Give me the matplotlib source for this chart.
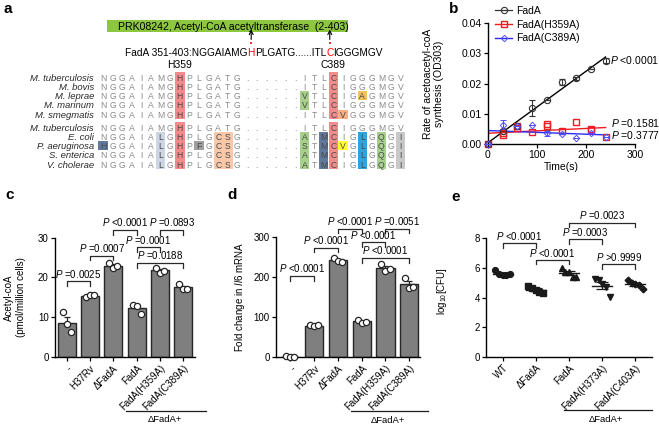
import matplotlib
matplotlib.use('Agg')
import matplotlib.pyplot as plt
from matplotlib.patches import Rectangle
from matplotlib.lines import Line2D
import numpy as np

plt.rcParams['font.family'] = ['Liberation Sans', 'DejaVu Sans']
plt.rcParams['mathtext.fontset'] = 'custom'
plt.rcParams['mathtext.rm'] = 'Liberation Sans'
plt.rcParams['mathtext.it'] = 'Liberation Sans:italic'
plt.rcParams['font.size'] = 7
plt.rcParams['axes.linewidth'] = 1.0

# ---------------- data: panel a (alignment) ----------------
domain_label = 'PRK08242, Acetyl-CoA acetyltransferase  (2-403)'
fada_prefix = 'FadA 351-403:'
fada_seq = 'NGGAIAMGHPLGATG......ITLCIGGGMGV'
site_cols = [8, 24]
site_labels = ['H359', 'C389']

species_1 = ['M. tuberculosis', 'M. bovis', 'M. leprae', 'M. marinum', 'M. smegmatis']
seqs_1 = ['NGGAIAMGHPLGATG......ITLCIGGGMGV',
          'NGGAIAMGHPLGATG......ITLCIGGGMGV',
          'NGGAIAMGHPLGATG......VTLCIGAGMGV',
          'NGGAIAMGHPLGATG......VTLCIGGGMGV',
          'NGGAIAMGHPLGATG......ITLCVGGGMGV']
species_2 = ['M. tuberculosis', 'E. coli', 'P. aeruginosa', 'S. enterica', 'V. cholerae']
seqs_2 = ['NGGAIAMGHPLGATG......ITLCIGGGMGV',
          'NGGAIALGHPLGCSG......ATMCIGLGQGI',
          'HGGAIALGHPFGCSG......STMCVGLGQGI',
          'NGGAIALGHPLGCSG......ATMCIGLGQGI',
          'NGGAIALGHPLGCSG......ATMCIGLGQGI']

# highlighted residues: (row, column, colour)
marks_1 = [(r, 8, '#f28b8b') for r in range(5)] + [(r, 24, '#f28b8b') for r in range(5)] + \
          [(2, 21, '#a8d08d'), (3, 21, '#a8d08d'), (2, 27, '#f6c25c'), (4, 25, '#f4b183')]
marks_2 = [(r, 8, '#f28b8b') for r in range(5)] + [(r, 24, '#f28b8b') for r in range(5)] + \
          [(r, 6, '#cbd5e3') for r in range(1, 5)] + \
          [(r, c, '#f8c8a8') for r in range(1, 5) for c in (12, 13)] + \
          [(r, 21, '#a8d08d') for r in range(1, 5)] + \
          [(r, 23, '#62799b') for r in range(1, 5)] + \
          [(r, 27, '#2ea3dc') for r in range(1, 5)] + \
          [(r, 29, '#a8d08d') for r in range(1, 5)] + \
          [(r, 31, '#c8c8c8') for r in range(1, 5)] + \
          [(2, 0, '#62799b'), (2, 10, '#a0a0a0'), (2, 25, '#ffff33')]

# ---------------- data: panel b ----------------
time_s = [0, 30, 60, 90, 120, 150, 180, 210, 240]
fada_rate = [0.0, 0.0042, 0.0060, 0.0120, 0.0144, 0.0206, 0.0217, 0.0249, 0.0276]
fada_err = [0.0, 0.0, 0.0, 0.0026, 0.0, 0.0010, 0.0006, 0.0, 0.0008]
h359a_t = [0, 30, 30, 60, 60, 90, 120, 120, 150, 180, 210, 210, 240]
h359a_rate = [0.0, 0.0030, 0.0036, 0.0053, 0.0060, 0.0041, 0.0067, 0.0058, 0.0044, 0.0073, 0.0047, 0.0050, 0.0022]
c389a_rate = [0.0, 0.0064, 0.0060, 0.0064, 0.0036, 0.0034, 0.0019, 0.0036, 0.0022]
c389a_err = [0.0, 0.0016, 0.0, 0.0, 0.0008, 0.0, 0.0, 0.0, 0.0]
b_pvals = ['<0.0001', '=0.1581', '=0.3777']

# ---------------- data: panel c ----------------
groups_cd = ['-', 'H37Rv', '\u0394FadA', 'FadA', 'FadA(H359A)', 'FadA(C389A)']
acetyl_coa = [[11.3, 8.4, 6.2], [15.0, 15.5, 15.7], [23.7, 22.4, 22.8],
              [13.2, 12.8, 10.9], [22.5, 21.2, 21.7], [18.4, 17.0, 17.2]]
c_pairs = [(0, 1), (1, 2), (2, 3), (4, 5), (3, 4), (3, 5)]
c_pvals = ['=0.0025', '=0.0007', '<0.0001', '=0.0893', '=0.0001', '=0.0188']
c_levels = [19.0, 25.5, 31.9, 31.9, 27.6, 23.6]

# ---------------- data: panel d ----------------
il6_fold = [[1.5, 1.0, 1.2], [79, 77, 79], [248, 240, 238],
            [93, 86, 87], [232, 214, 220], [198, 172, 174]]
d_pairs = [(0, 1), (1, 2), (2, 3), (4, 5), (3, 4), (3, 5)]
d_pvals = ['<0.0001', '<0.0001', '<0.0001', '=0.0051', '<0.0001', '<0.0001']
d_levels = [202, 273, 320, 320, 286, 247]

# ---------------- data: panel e ----------------
groups_e = ['WT', '\u0394FadA', 'FadA', 'FadA(H373A)', 'FadA(C403A)']
log_cfu = [[5.85, 5.6, 5.55, 5.5, 5.6],
           [4.8, 4.65, 4.5, 4.4, 4.3],
           [6.0, 5.75, 5.7, 5.4, 5.4],
           [5.25, 5.15, 4.9, 4.7, 4.05],
           [5.2, 4.95, 4.9, 4.85, 4.6]]
e_markers = ['o', 's', '^', 'v', 'D']
e_pairs = [(0, 1), (1, 2), (2, 4), (2, 3), (3, 4)]
e_pvals = ['<0.0001', '<0.0001', '=0.0023', '=0.0003', '>0.9999']
e_levels = [7.66, 6.53, 9.05, 7.93, 6.24]

W, H = 659, 428
fig = plt.figure(figsize=(W / 100, H / 100), dpi=100)


def px_axes(l, t, r, b):
    return fig.add_axes([l / W, 1 - b / H, (r - l) / W, (b - t) / H])


# ================= panel a =================
ax_a = fig.add_axes([0, 0, 1, 1])
ax_a.set_xlim(0, W)
ax_a.set_ylim(H, 0)
ax_a.axis('off')

col_x0, col_dx = 103, 9.6
row_h = 9.3


def draw_group(y0, names, seqs, marks):
    for r, c, colr in marks:
        ax_a.add_patch(Rectangle((col_x0 + c * col_dx - 4.7, y0 + r * row_h - row_h / 2),
                                 9.4, row_h, color=colr, lw=0))
    marked = {(r, c) for r, c, _ in marks}
    for r, (name, seq) in enumerate(zip(names, seqs)):
        y = y0 + r * row_h
        ax_a.text(94, y, name, ha='right', va='center_baseline', style='italic',
                  fontsize=6.8, color='#2a2a2a')
        for c, ch in enumerate(seq):
            ax_a.text(col_x0 + c * col_dx, y, ch, ha='center', va='center_baseline',
                      fontsize=6.2, color='#4a4a4a' if (r, c) in marked else '#8a8a8a')


draw_group(77, species_1, seqs_1, marks_1)
draw_group(127, species_2, seqs_2, marks_2)

# domain bar
ax_a.add_patch(Rectangle((107, 19.5), 241, 12.3, color='#8dc63f', lw=0))
ax_a.text(118, 26, domain_label, fontsize=7.6, va='center_baseline', ha='left')

# FadA consensus line with red sites
renderer = fig.canvas.get_renderer()
inv = ax_a.transData.inverted()
runs = [(fada_prefix + fada_seq[:site_cols[0]], 'black'),
        (fada_seq[site_cols[0]], 'red'),
        (fada_seq[site_cols[0] + 1:site_cols[1]], 'black'),
        (fada_seq[site_cols[1]], 'red'),
        (fada_seq[site_cols[1] + 1:], 'black')]
x = 125
centers = []
for s, colr in runs:
    t = ax_a.text(x, 52, s, color=colr, fontsize=7.3, va='center_baseline', ha='left')
    bb = t.get_window_extent(renderer)
    x0 = inv.transform((bb.x0, bb.y0))[0]
    x1 = inv.transform((bb.x1, bb.y0))[0]
    centers.append((x0 + x1) / 2)
    x = x1
for cx in (centers[1], centers[3]):
    ax_a.annotate('', xy=(cx, 29.5), xytext=(cx, 39.5),
                  arrowprops=dict(arrowstyle='->', lw=0.8, color='black', shrinkA=0, shrinkB=0))
    ax_a.plot(cx, 43, 's', color='#ff3030', ms=1.6, mew=0)
for c, lab in zip(site_cols, site_labels):
    ax_a.text(col_x0 + c * col_dx, 64, lab, ha='center', va='center_baseline', fontsize=7.5)

# panel letters
for lab, px, py in [('a', 3, 13), ('b', 449, 13), ('c', 5, 199), ('d', 227, 199), ('e', 451, 201)]:
    ax_a.text(px, py, lab, fontsize=11, fontweight='bold', va='baseline', ha='left')


def style_axes(ax):
    ax.spines['top'].set_visible(False)
    ax.spines['right'].set_visible(False)
    ax.tick_params(length=3, width=0.9, labelsize=7, pad=1.5)


def p_label(s):
    return r'$P$ ' + s


def brackets(ax, pairs, pvals, levels, tick):
    for (i, j), pv, lv in zip(pairs, pvals, levels):
        ax.plot([i, i, j, j], [lv - tick, lv, lv, lv - tick], color='#2a2a2a', lw=0.9, clip_on=False)
        ax.text((i + j) / 2, lv + tick * 0.35, p_label(pv), ha='center', va='bottom',
                fontsize=7, clip_on=False)


# ================= panel b =================
ax_b = px_axes(488, 23, 635, 144)
style_axes(ax_b)
fit_t = np.array([0, 240])
for tx, vals, colr in [(time_s, fada_rate, 'black'), (h359a_t, h359a_rate, '#ee1c24'),
                       (time_s, c389a_rate, '#2a2aff')]:
    k, b0 = np.polyfit(tx, vals, 1)
    ax_b.plot(fit_t, k * fit_t + b0, color=colr, lw=1.0, zorder=2)
ax_b.errorbar(time_s, fada_rate, yerr=fada_err, fmt='o', mfc='none', mec='#333333', ecolor='#333333',
              ms=4.5, mew=0.8, elinewidth=0.8, capsize=2, clip_on=False, zorder=3)
ax_b.plot(h359a_t, h359a_rate, 's', mfc='none', mec='#ee1c24', ms=4.3, mew=1.0, clip_on=False, zorder=3)
ax_b.errorbar(time_s, c389a_rate, yerr=c389a_err, fmt='D', mfc='none', mec='#5050ff', ecolor='#5050ff',
              ms=3.3, mew=0.7, elinewidth=0.8, capsize=2, clip_on=False, zorder=3)
ax_b.set_xlim(0, 300)
ax_b.set_ylim(0, 0.04)
ax_b.set_xticks([0, 100, 200, 300])
ax_b.set_yticks([0, 0.01, 0.02, 0.03, 0.04])
ax_b.set_yticklabels(['0.00', '0.01', '0.02', '0.03', '0.04'])
ax_b.tick_params(labelsize=7.5)
ax_b.set_xlabel('Time(s)', fontsize=7.5, labelpad=1)
ax_b.set_ylabel('Rate of acetoacetyl-coA\nsynthesis (OD303)', fontsize=7.5, linespacing=1.1)
ax_b.yaxis.set_label_coords(-0.3, 0.5)
handles = [Line2D([], [], color='#333333', marker='o', mfc='none', ms=4.5, mew=0.8, lw=0.9),
           Line2D([], [], color='#ee1c24', marker='s', mfc='none', ms=4.3, mew=1.0, lw=1.0),
           Line2D([], [], color='#2a2aff', marker='D', mfc='none', mec='#5050ff', ms=3.3, mew=0.7, lw=1.0)]
ax_b.legend(handles, ['FadA', 'FadA(H359A)', 'FadA(C389A)'], loc='upper left',
            bbox_to_anchor=(0.0, 1.2), frameon=False, fontsize=7.5, handlelength=1.6,
            handletextpad=0.4, labelspacing=0.35, borderpad=0.2)
for pv, (tx, ty) in zip(b_pvals, [(250, 0.0278), (251, 0.0070), (251, 0.0029)]):
    ax_b.text(tx, ty, p_label(pv), fontsize=7.5, va='center', ha='left', clip_on=False)


# ================= panels c, d =================
def bar_panel(ax, values, pairs, pvals, levels, tick, ymax, yticks):
    style_axes(ax)
    xs = np.arange(len(values))
    means = [np.mean(v) for v in values]
    sems = [np.std(v, ddof=1) / np.sqrt(len(v)) for v in values]
    ax.bar(xs, means, width=0.76, color='#7f7f7f', edgecolor='#262626', lw=1.0, zorder=2)
    ax.errorbar(xs, means, yerr=[np.zeros(len(xs)), sems], fmt='none', ecolor='#262626',
                elinewidth=0.9, capsize=2.5, capthick=0.9, zorder=3)
    offs = [-0.17, 0.0, 0.17]
    for i, v in enumerate(values):
        ax.plot(i + np.array(offs), v, 'o', mfc='white', mec='#262626', ms=4.5, mew=0.9,
                zorder=4, clip_on=False)
    ax.set_ylim(0, ymax)
    ax.set_yticks(yticks)
    ax.set_xticks(xs)
    ax.set_xticklabels(groups_cd, rotation=45, ha='right', rotation_mode='anchor')
    brackets(ax, pairs, pvals, levels, tick)


ax_c = px_axes(55, 237.7, 195, 357)
bar_panel(ax_c, acetyl_coa, c_pairs, c_pvals, c_levels, 1.2, 30, [0, 10, 20, 30])
ax_c.set_xlim(-0.5, 5.5)
ax_c.set_ylabel('Acetyl-coA\n(pmol/million cells)', fontsize=7, linespacing=1.15)
ax_c.yaxis.set_label_coords(-0.21, 0.5)

ax_d = px_axes(276, 236.7, 420, 357)
bar_panel(ax_d, il6_fold, d_pairs, d_pvals, d_levels, 12, 300, [0, 100, 200, 300])
ax_d.set_xlim(-0.6, 5.45)
ax_d.set_ylabel('Fold change in $\\mathit{Il6}$ mRNA', fontsize=7)
ax_d.yaxis.set_label_coords(-0.2, 0.5)

# ================= panel e =================
ax_e = px_axes(486, 238.3, 652, 356.7)
style_axes(ax_e)
offs_e = [-0.22, -0.11, 0.0, 0.11, 0.22]
for i, (v, mk) in enumerate(zip(log_cfu, e_markers)):
    ax_e.plot(i + np.array(offs_e), v, mk, color='#1a1a1a', ms=4.2 if mk != 'D' else 3.4, zorder=3)
    m = np.mean(v)
    s = np.std(v, ddof=1) / np.sqrt(len(v))
    ax_e.plot([i - 0.3, i + 0.3], [m, m], color='#1a1a1a', lw=1.0, zorder=4)
    ax_e.errorbar(i, m, yerr=s, fmt='none', ecolor='#1a1a1a', elinewidth=0.9, capsize=4, capthick=0.9, zorder=4)
ax_e.set_xlim(-0.5, 4.5)
ax_e.set_ylim(0, 8)
ax_e.set_yticks([0, 2, 4, 6, 8])
ax_e.set_xticks(range(len(groups_e)))
ax_e.set_xticklabels(groups_e, rotation=45, ha='right', rotation_mode='anchor')
ax_e.set_ylabel('log$_{10}$[CFU]', fontsize=7)
ax_e.yaxis.set_label_coords(-0.22, 0.55)
brackets(ax_e, e_pairs, e_pvals, e_levels, 0.3)

# complement group underline
for ax, x0, x1, xt in [(ax_c, 2.55, 5.95, 4.2), (ax_d, 2.55, 5.8, 4.1), (ax_e, 1.85, 4.5, 3.1)]:
    tr = ax.get_xaxis_transform()
    ax.plot([x0, x1], [-0.45, -0.45], color='#1a1a1a', lw=0.9, transform=tr, clip_on=False)
    ax.text(xt, -0.49, '\u0394FadA+', transform=tr, ha='center', va='top', fontsize=6.8)

fig.savefig('out.png', dpi=100)
